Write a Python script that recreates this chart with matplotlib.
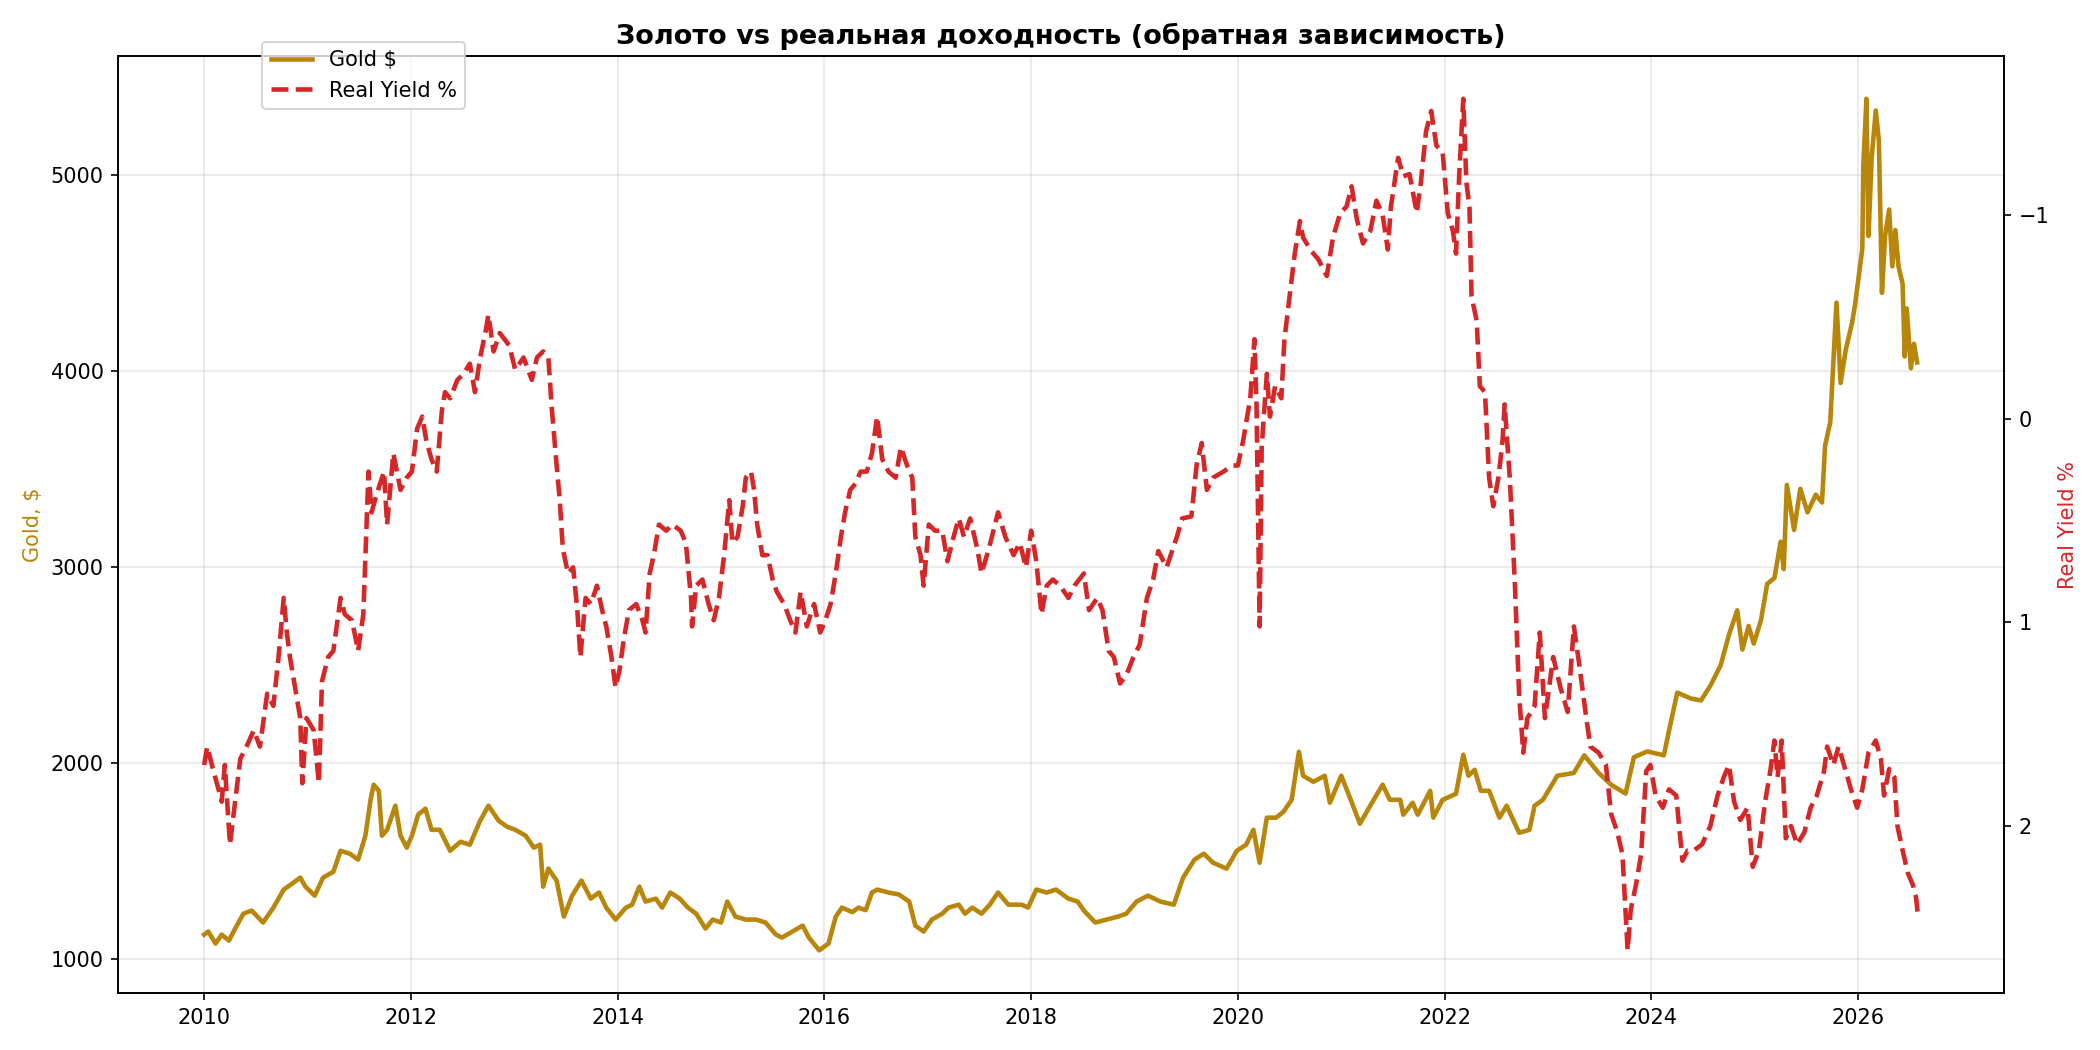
import matplotlib
matplotlib.use("Agg")
import matplotlib.pyplot as plt
from matplotlib.ticker import MultipleLocator

# gold price, $ (decimal year, value)
gold_t = [2010.00, 2010.04, 2010.11, 2010.17, 2010.24, 2010.30, 2010.38, 2010.46, 2010.57, 2010.67,
          2010.77, 2010.85, 2010.93, 2010.98, 2011.07, 2011.15, 2011.25, 2011.32, 2011.41, 2011.49,
          2011.56, 2011.61, 2011.64, 2011.69, 2011.72, 2011.77, 2011.85, 2011.90, 2011.96, 2012.01,
          2012.07, 2012.14, 2012.20, 2012.28, 2012.38, 2012.48, 2012.57, 2012.67, 2012.75, 2012.85,
          2012.93, 2013.01, 2013.11, 2013.19, 2013.25, 2013.28, 2013.33, 2013.41, 2013.48, 2013.56,
          2013.65, 2013.74, 2013.82, 2013.89, 2013.98, 2014.08, 2014.14, 2014.21, 2014.27, 2014.37,
          2014.43, 2014.51, 2014.60, 2014.68, 2014.76, 2014.85, 2014.92, 2015.00, 2015.06, 2015.14,
          2015.24, 2015.34, 2015.43, 2015.53, 2015.59, 2015.69, 2015.79, 2015.85, 2015.95, 2016.04,
          2016.11, 2016.17, 2016.27, 2016.33, 2016.40, 2016.46, 2016.51, 2016.62, 2016.72, 2016.82,
          2016.88, 2016.96, 2017.04, 2017.14, 2017.20, 2017.30, 2017.36, 2017.43, 2017.52, 2017.60,
          2017.68, 2017.78, 2017.91, 2017.97, 2018.05, 2018.15, 2018.24, 2018.36, 2018.45, 2018.51,
          2018.62, 2018.73, 2018.84, 2018.92, 2019.02, 2019.13, 2019.25, 2019.38, 2019.47, 2019.58,
          2019.67, 2019.76, 2019.89, 2019.99, 2020.08, 2020.15, 2020.21, 2020.28, 2020.37, 2020.44,
          2020.52, 2020.59, 2020.63, 2020.73, 2020.84, 2020.89, 2021.00, 2021.08, 2021.18, 2021.28,
          2021.40, 2021.47, 2021.57, 2021.60, 2021.69, 2021.74, 2021.86, 2021.89, 2021.98, 2022.11,
          2022.18, 2022.23, 2022.29, 2022.35, 2022.43, 2022.53, 2022.60, 2022.72, 2022.82, 2022.87,
          2022.95, 2023.09, 2023.25, 2023.35, 2023.49, 2023.61, 2023.75, 2023.83, 2023.96, 2024.12,
          2024.17, 2024.25, 2024.38, 2024.48, 2024.57, 2024.67, 2024.75, 2024.83, 2024.88, 2024.94,
          2024.99, 2025.06, 2025.12, 2025.19, 2025.25, 2025.28, 2025.31, 2025.38, 2025.44, 2025.51,
          2025.59, 2025.65, 2025.68, 2025.73, 2025.76, 2025.79, 2025.83, 2025.88, 2025.94, 2025.97,
          2026.01, 2026.04, 2026.05, 2026.08, 2026.10, 2026.13, 2026.17, 2026.20, 2026.23, 2026.26,
          2026.30, 2026.33, 2026.36, 2026.39, 2026.43, 2026.45, 2026.47, 2026.51, 2026.54, 2026.57]
gold = [1125, 1141, 1080, 1125, 1095, 1156, 1232, 1248, 1187, 1263,
        1355, 1385, 1416, 1370, 1324, 1416, 1446, 1553, 1538, 1508,
        1630, 1813, 1890, 1859, 1630, 1660, 1783, 1630, 1569, 1630,
        1737, 1768, 1660, 1660, 1553, 1599, 1584, 1706, 1783, 1706,
        1676, 1660, 1630, 1569, 1584, 1370, 1462, 1401, 1217, 1324,
        1401, 1309, 1340, 1263, 1202, 1263, 1278, 1370, 1294, 1309,
        1263, 1340, 1309, 1263, 1232, 1156, 1202, 1187, 1294, 1217,
        1202, 1202, 1187, 1126, 1110, 1141, 1171, 1110, 1045, 1080,
        1217, 1263, 1240, 1263, 1250, 1340, 1355, 1340, 1330, 1294,
        1171, 1141, 1202, 1232, 1263, 1278, 1232, 1263, 1232, 1278,
        1340, 1278, 1278, 1263, 1355, 1340, 1355, 1309, 1294, 1248,
        1187, 1202, 1217, 1232, 1294, 1324, 1294, 1278, 1416, 1508,
        1538, 1492, 1462, 1553, 1584, 1660, 1492, 1722, 1722, 1752,
        1813, 2058, 1936, 1905, 1936, 1798, 1936, 1829, 1691, 1783,
        1890, 1813, 1813, 1737, 1798, 1737, 1859, 1722, 1813, 1844,
        2043, 1936, 1966, 1859, 1859, 1722, 1783, 1645, 1660, 1783,
        1813, 1936, 1950, 2040, 1950, 1890, 1845, 2030, 2060, 2040,
        2165, 2360, 2330, 2320, 2395, 2500, 2655, 2780, 2580, 2700,
        2610, 2730, 2915, 2945, 3130, 2990, 3420, 3190, 3400, 3280,
        3370, 3330, 3620, 3740, 4045, 4350, 3940, 4110, 4245, 4340,
        4505, 4625, 5055, 5390, 4690, 5085, 5330, 5180, 4400, 4690,
        4825, 4535, 4720, 4535, 4445, 4075, 4320, 4015, 4140, 4045]

# real yield, % (decimal year, value)
yield_t = [2010.00, 2010.03, 2010.09, 2010.14, 2010.17, 2010.20, 2010.25, 2010.30, 2010.35, 2010.41,
           2010.48, 2010.54, 2010.61, 2010.67, 2010.72, 2010.77, 2010.80, 2010.83, 2010.88, 2010.93,
           2010.95, 2010.99, 2011.06, 2011.11, 2011.14, 2011.20, 2011.25, 2011.32, 2011.36, 2011.43,
           2011.49, 2011.54, 2011.59, 2011.62, 2011.67, 2011.74, 2011.77, 2011.83, 2011.90, 2011.96,
           2012.01, 2012.06, 2012.11, 2012.15, 2012.20, 2012.25, 2012.30, 2012.33, 2012.38, 2012.45,
           2012.51, 2012.57, 2012.62, 2012.67, 2012.72, 2012.75, 2012.80, 2012.86, 2012.95, 2013.01,
           2013.09, 2013.17, 2013.22, 2013.28, 2013.33, 2013.36, 2013.41, 2013.44, 2013.47, 2013.52,
           2013.57, 2013.61, 2013.64, 2013.69, 2013.74, 2013.80, 2013.85, 2013.89, 2013.94, 2013.98,
           2014.02, 2014.06, 2014.11, 2014.18, 2014.24, 2014.27, 2014.31, 2014.35, 2014.40, 2014.47,
           2014.53, 2014.61, 2014.66, 2014.71, 2014.72, 2014.76, 2014.82, 2014.88, 2014.93, 2014.98,
           2015.03, 2015.08, 2015.11, 2015.16, 2015.21, 2015.24, 2015.29, 2015.32, 2015.35, 2015.40,
           2015.45, 2015.50, 2015.54, 2015.61, 2015.67, 2015.72, 2015.77, 2015.83, 2015.90, 2015.96,
           2016.01, 2016.06, 2016.11, 2016.16, 2016.20, 2016.25, 2016.30, 2016.35, 2016.41, 2016.46,
           2016.51, 2016.56, 2016.62, 2016.69, 2016.74, 2016.80, 2016.85, 2016.88, 2016.93, 2016.96,
           2017.01, 2017.07, 2017.14, 2017.19, 2017.25, 2017.30, 2017.35, 2017.41, 2017.48, 2017.52,
           2017.59, 2017.68, 2017.75, 2017.83, 2017.89, 2017.95, 2018.00, 2018.05, 2018.10, 2018.15,
           2018.21, 2018.28, 2018.36, 2018.42, 2018.51, 2018.56, 2018.64, 2018.69, 2018.75, 2018.80,
           2018.86, 2018.92, 2018.99, 2019.05, 2019.12, 2019.18, 2019.23, 2019.31, 2019.41, 2019.46,
           2019.55, 2019.60, 2019.65, 2019.70, 2019.76, 2019.86, 2019.95, 2020.00, 2020.05, 2020.12,
           2020.16, 2020.18, 2020.21, 2020.23, 2020.28, 2020.31, 2020.36, 2020.42, 2020.45, 2020.50,
           2020.55, 2020.60, 2020.63, 2020.70, 2020.78, 2020.86, 2020.92, 2020.99, 2021.05, 2021.10,
           2021.15, 2021.21, 2021.28, 2021.34, 2021.40, 2021.45, 2021.48, 2021.55, 2021.60, 2021.66,
           2021.73, 2021.77, 2021.82, 2021.87, 2021.92, 2021.98, 2022.03, 2022.08, 2022.11, 2022.14,
           2022.18, 2022.21, 2022.24, 2022.26, 2022.31, 2022.34, 2022.39, 2022.43, 2022.47, 2022.52,
           2022.56, 2022.58, 2022.63, 2022.68, 2022.72, 2022.76, 2022.80, 2022.87, 2022.92, 2022.97,
           2023.01, 2023.05, 2023.12, 2023.19, 2023.25, 2023.30, 2023.37, 2023.41, 2023.49, 2023.56,
           2023.61, 2023.67, 2023.72, 2023.77, 2023.80, 2023.85, 2023.90, 2023.95, 2023.99, 2024.04,
           2024.11, 2024.17, 2024.24, 2024.30, 2024.35, 2024.41, 2024.49, 2024.57, 2024.64, 2024.70,
           2024.75, 2024.80, 2024.86, 2024.93, 2024.98, 2025.04, 2025.10, 2025.15, 2025.19, 2025.22,
           2025.26, 2025.30, 2025.35, 2025.41, 2025.48, 2025.54, 2025.60, 2025.67, 2025.70, 2025.76,
           2025.81, 2025.88, 2025.93, 2025.99, 2026.04, 2026.10, 2026.17, 2026.22, 2026.25, 2026.30,
           2026.35, 2026.38, 2026.43, 2026.48, 2026.53, 2026.56, 2026.58]
real_yield = [1.70, 1.61, 1.73, 1.82, 1.88, 1.70, 2.09, 1.88, 1.67, 1.61,
              1.53, 1.61, 1.35, 1.41, 1.17, 0.88, 1.05, 1.17, 1.32, 1.47,
              1.79, 1.47, 1.53, 1.79, 1.29, 1.17, 1.14, 0.88, 0.96, 0.99,
              1.14, 0.96, 0.26, 0.46, 0.37, 0.26, 0.52, 0.17, 0.35, 0.29,
              0.26, 0.05, -0.01, 0.11, 0.20, 0.26, -0.04, -0.13, -0.10, -0.19,
              -0.22, -0.27, -0.13, -0.30, -0.42, -0.51, -0.33, -0.42, -0.36, -0.24,
              -0.30, -0.19, -0.30, -0.33, -0.30, -0.07, 0.23, 0.40, 0.64, 0.76,
              0.73, 0.94, 1.17, 0.88, 0.91, 0.82, 0.94, 1.02, 1.17, 1.32,
              1.23, 1.08, 0.94, 0.91, 0.99, 1.05, 0.76, 0.67, 0.52, 0.55,
              0.52, 0.55, 0.61, 0.88, 1.02, 0.82, 0.79, 0.91, 0.99, 0.88,
              0.67, 0.40, 0.61, 0.58, 0.43, 0.29, 0.26, 0.35, 0.52, 0.67,
              0.67, 0.79, 0.85, 0.91, 0.99, 1.05, 0.85, 1.02, 0.91, 1.05,
              0.99, 0.91, 0.76, 0.58, 0.46, 0.35, 0.32, 0.26, 0.26, 0.17,
              -0.01, 0.20, 0.26, 0.29, 0.14, 0.23, 0.29, 0.58, 0.67, 0.82,
              0.52, 0.55, 0.55, 0.70, 0.58, 0.49, 0.58, 0.49, 0.64, 0.76,
              0.64, 0.46, 0.58, 0.67, 0.61, 0.73, 0.55, 0.70, 0.96, 0.82,
              0.79, 0.82, 0.88, 0.82, 0.76, 0.94, 0.88, 0.94, 1.14, 1.17,
              1.30, 1.26, 1.17, 1.11, 0.88, 0.79, 0.65, 0.73, 0.58, 0.49,
              0.48, 0.23, 0.12, 0.35, 0.29, 0.26, 0.23, 0.23, 0.11, -0.10,
              -0.39, -0.07, 1.02, 0.14, -0.22, -0.01, -0.16, -0.10, -0.39, -0.60,
              -0.81, -0.97, -0.89, -0.83, -0.78, -0.70, -0.89, -1.01, -1.04, -1.14,
              -0.98, -0.86, -0.92, -1.07, -1.00, -0.83, -1.04, -1.28, -1.19, -1.20,
              -1.01, -1.16, -1.41, -1.51, -1.34, -1.31, -1.01, -0.92, -0.81, -1.19,
              -1.57, -1.16, -1.04, -0.60, -0.48, -0.16, -0.13, 0.29, 0.43, 0.29,
              0.11, -0.07, 0.29, 0.82, 1.35, 1.64, 1.47, 1.41, 1.05, 1.47,
              1.32, 1.17, 1.32, 1.44, 1.02, 1.20, 1.47, 1.61, 1.64, 1.70,
              1.94, 2.03, 2.14, 2.61, 2.41, 2.29, 2.14, 1.73, 1.70, 1.85,
              1.91, 1.82, 1.85, 2.17, 2.12, 2.12, 2.09, 2.00, 1.85, 1.76,
              1.70, 1.88, 1.97, 1.91, 2.20, 2.12, 1.88, 1.73, 1.58, 1.76,
              1.58, 2.06, 2.00, 2.09, 2.03, 1.91, 1.85, 1.73, 1.61, 1.70,
              1.61, 1.73, 1.82, 1.91, 1.82, 1.64, 1.58, 1.67, 1.85, 1.72,
              1.76, 2.00, 2.12, 2.23, 2.29, 2.35, 2.45]

gold_color = "#B8860B"
yield_color = "#d62728"

fig, ax1 = plt.subplots(figsize=(14, 7), dpi=150)
l1, = ax1.plot(gold_t, gold, color=gold_color, lw=2.2, label="Gold $")
ax1.set_ylabel("Gold, $", color=gold_color)
ax1.grid(alpha=0.3)
ax1.xaxis.set_major_locator(MultipleLocator(2))

ax2 = ax1.twinx()
l2, = ax2.plot(yield_t, real_yield, color=yield_color, lw=2.2, ls="--", label="Real Yield %")
ax2.set_ylabel("Real Yield %", color=yield_color)
ax2.invert_yaxis()

ax1.set_title("Золото vs реальная доходность (обратная зависимость)", fontsize=13, fontweight="bold")
fig.legend(handles=[l1, l2], loc="upper left", bbox_to_anchor=(0.12, 0.97))
fig.tight_layout()
fig.savefig("out.png")
